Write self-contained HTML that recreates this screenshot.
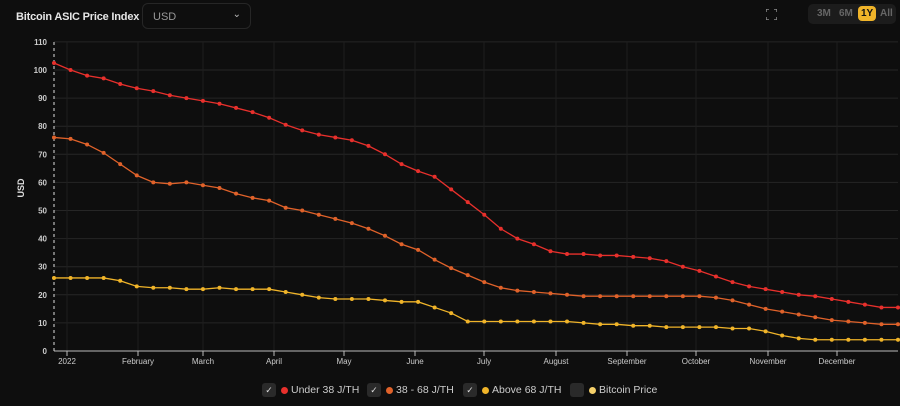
<!DOCTYPE html>
<html><head><meta charset="utf-8"><style>
body{margin:0;background:#0e0e0e;width:900px;height:406px;overflow:hidden;font-family:"Liberation Sans",sans-serif;color:#ddd}
.t{position:absolute;left:16px;top:11px;font-size:11px;font-weight:bold;color:#e6e6e6;letter-spacing:-0.2px}
.sel{position:absolute;left:142px;top:3px;width:109px;height:26px;border:1px solid #262626;border-radius:6px;box-sizing:border-box;font-size:11px;color:#999;padding:7px 0 0 10px}
.sel span{position:absolute;right:9px;top:5px;font-size:10px;color:#bbb}
.rng{position:absolute;left:808px;top:4px;width:88px;height:20px;background:#1c1c1c;border-radius:5px;font-size:10px;font-weight:bold;color:#666}
.rng b{position:absolute;top:4px}
.leg{position:absolute;top:383px;font-size:10.5px;color:#ccc}
.cb{display:inline-block;width:14px;height:14px;background:#2a2a2a;border-radius:3px;vertical-align:middle;text-align:center;font-size:9px;line-height:14px;color:#ddd;margin-right:5px}
.dot{display:inline-block;width:7px;height:7px;border-radius:50%;vertical-align:middle;margin-right:3px}
</style></head><body>
<div class="t">Bitcoin ASIC Price Index</div>
<div class="sel">USD<span>⌄</span></div>
<svg style="position:absolute;left:766px;top:9px" width="11" height="11"><path d="M0 3V0H3M8 0H11V3M11 8V11H8M3 11H0V8" stroke="#888" stroke-width="1.5" fill="none"/></svg>
<div class="rng"><b style="left:9px">3M</b><b style="left:31px">6M</b><b style="left:50px;top:2px;background:#f0b429;color:#111;border-radius:4px;padding:2px 3px">1Y</b><b style="left:72px">All</b></div>
<svg id="c" width="900" height="406" style="position:absolute;left:0;top:0"></svg>
<div class="leg" style="left:262px"><span class="cb">✓</span><span class="dot" style="background:#e8302c"></span>Under 38 J/TH</div>
<div class="leg" style="left:367px"><span class="cb">✓</span><span class="dot" style="background:#e0622a"></span>38 - 68 J/TH</div>
<div class="leg" style="left:463px"><span class="cb">✓</span><span class="dot" style="background:#f0b429"></span>Above 68 J/TH</div>
<div class="leg" style="left:570px"><span class="cb"></span><span class="dot" style="background:#f5d06a"></span>Bitcoin Price</div>
<script>
var s='',L=54,R=898,Y=v=>351-2.81*v;
for(var v=0;v<=110;v+=10){var y=Y(v);if(v)s+=`<line x1="${L}" x2="${R}" y1="${y}" y2="${y}" stroke="#262626"/>`;s+=`<text x="47" y="${y+3}" font-size="8" fill="#ccc" text-anchor="end" font-weight="bold">${v}</text>`;}
var m=[[67,'2022'],[138,'February'],[203,'March'],[274,'April'],[344,'May'],[415,'June'],[484,'July'],[556,'August'],[627,'September'],[696,'October'],[768,'November'],[837,'December']];
m.forEach(a=>{s+=`<line x1="${a[0]}" x2="${a[0]}" y1="42" y2="351" stroke="#1e1e1e"/><line x1="${a[0]}" x2="${a[0]}" y1="351" y2="356" stroke="#bbb"/><text x="${a[0]}" y="364" font-size="8" fill="#ccc" text-anchor="middle">${a[1]}</text>`});
s+=`<line x1="${L}" x2="${R}" y1="351" y2="351" stroke="#bbb"/><line x1="${L}" x2="${L}" y1="42" y2="351" stroke="#ddd" stroke-dasharray="3,3"/>`;
s+=`<text x="24" y="188" font-size="9" fill="#ddd" font-weight="bold" transform="rotate(-90 24 188)" text-anchor="middle">USD</text>`;
var d=[[ '#e8302c',[102.5,100,98,97,95,93.5,92.5,91,90,89,88,86.5,85,83,80.5,78.5,77,76,75,73,70,66.5,64,62,57.5,53,48.5,43.5,40,38,35.5,34.5,34.5,34,34,33.5,33,32,30,28.5,26.5,24.5,23,22,21,20,19.5,18.5,17.5,16.5,15.5,15.5]],
['#e0622a',[76,75.5,73.5,70.5,66.5,62.5,60,59.5,60,59,58,56,54.5,53.5,51,50,48.5,47,45.5,43.5,41,38,36,32.5,29.5,27,24.5,22.5,21.5,21,20.5,20,19.5,19.5,19.5,19.5,19.5,19.5,19.5,19.5,19,18,16.5,15,14,13,12,11,10.5,10,9.5,9.5]],
['#f0b429',[26,26,26,26,25,23,22.5,22.5,22,22,22.5,22,22,22,21,20,19,18.5,18.5,18.5,18,17.5,17.5,15.5,13.5,10.5,10.5,10.5,10.5,10.5,10.5,10.5,10,9.5,9.5,9,9,8.5,8.5,8.5,8.5,8,8,7,5.5,4.5,4,4,4,4,4,4]]];
d.forEach(a=>{var n=a[1].length,p=a[1].map((v,i)=>[L+i*(R-L)/(n-1),Y(v)]);
s+=`<polyline fill="none" stroke="${a[0]}" stroke-width="1.3" points="${p.map(q=>q.join(',')).join(' ')}"/>`;
p.forEach(q=>s+=`<circle cx="${q[0]}" cy="${q[1]}" r="2" fill="${a[0]}"/>`)});
document.getElementById('c').innerHTML=s;
</script>
</body></html>
